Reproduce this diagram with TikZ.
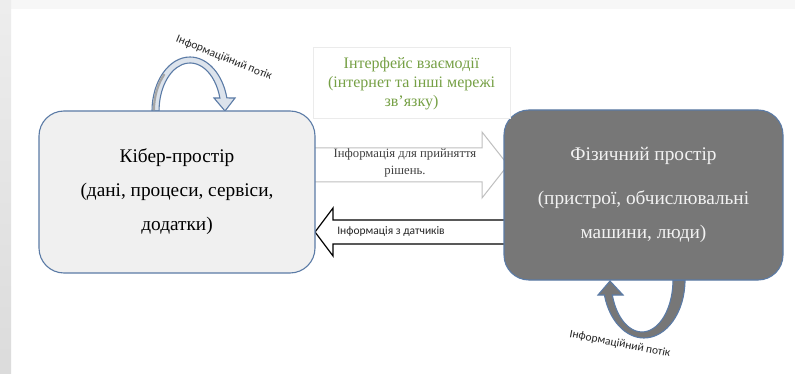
\documentclass[tikz,border=0pt]{standalone}
\usepackage{fontspec}
\setmainfont{Liberation Serif}
\newfontfamily\calibri{Carlito}
\usetikzlibrary{calc}
\pgfdeclarelayer{page}
\pgfdeclarelayer{back}
\pgfsetlayers{page,back,main}

\definecolor{boxedge}{HTML}{5B7BA6}
\definecolor{cyberfill}{HTML}{F0F0F0}
\definecolor{physfill}{HTML}{777777}
\definecolor{phystext}{HTML}{F2F2F2}
\definecolor{ifgreen}{HTML}{76A045}
\definecolor{ribbonlight}{HTML}{DCE3EC}
\definecolor{ribbondark}{HTML}{A6A6A6}

\tikzset{
  spacebox/.style={draw=boxedge, line width=1.1pt, rounded corners=25pt,
    align=center, inner sep=0pt},
  serifbig/.style={font=\rmfamily\fontsize{19.3}{34}\selectfont},
  flowlabel/.style={font=\calibri\fontsize{11.5}{13}\selectfont, text=black!85},
  blockarrow/.style={fill=white, line width=1pt, line join=miter},
}

\begin{document}
\begin{tikzpicture}[x=1pt,y=-1pt]
\useasboundingbox (0,0) rectangle (795,374);

% page background with a light side strip
\begin{pgfonlayer}{page}
  \fill[white] (0,0) rectangle (795,374);
  \fill[black!3] (0,0) rectangle (795,9);
  \shade[top color=black!7, bottom color=black!14] (0,0) rectangle (11,374);
\end{pgfonlayer}

% the two spaces
\node[spacebox, fill=cyberfill, minimum width=276pt, minimum height=162pt,
      serifbig] (cyber) at (177,192)
  {Кібер-простір\\(дані, процеси, сервіси,\\додатки)};
\node[spacebox, fill=physfill, text=phystext, minimum width=279pt,
      minimum height=170pt, serifbig] (phys) at (643.5,195)
  {Фізичний простір\\[10pt](пристрої, обчислювальні\\машини, люди)};

% interface box
\node[draw=black!8, line width=0.6pt, minimum width=197pt, minimum height=71pt,
      text=ifgreen, align=center, font=\rmfamily\fontsize{16}{19}\selectfont]
  (iface) at (411.5,82.5)
  {\rule{0pt}{14pt}Інтерфейс взаємодії\\(інтернет та інші мережі\\зв’язку)};

% block arrows between the spaces, kept behind the boxes
\begin{pgfonlayer}{back}
  \draw[blockarrow, draw=black!25]
    (310,148) -- (482,148) -- (482,132) -- (508,165) -- (482,198)
    -- (482,182) -- (310,182);
  \draw[blockarrow, draw=black, line width=1.2pt]
    (510,220) -- (333,220) -- (333,208) -- (315,232) -- (333,256)
    -- (333,244) -- (510,244);

  % information flow loop above the cyber space
  \filldraw[fill=ribbonlight, draw=boxedge, line width=1.1pt, line join=miter]
    (152,111) arc[start angle=180, end angle=346, x radius=38, y radius=54]
    -- (235,98) -- (225,111) -- (214,98) -- (219.9,98)
    arc[start angle=344.3, end angle=180, x radius=31, y radius=48] -- cycle;
  \fill[ribbondark]
    (152.8,111) arc[start angle=180, end angle=225, x radius=37.2, y radius=53.2]
    -- ($(190,111)+(225:35 and 51)$)
    arc[start angle=225, end angle=180, x radius=35, y radius=51] -- cycle;

  % information flow loop below the physical space
  \filldraw[fill=physfill, draw=boxedge, line width=1.1pt, line join=miter]
    (685,280) arc[start angle=0, end angle=165, x radius=41, y radius=58]
    -- (598,295) -- (610,281) -- (623,295) -- (612.3,295)
    arc[start angle=163.2, end angle=0, x radius=31, y radius=52] -- cycle;
\end{pgfonlayer}

% arrow labels
\node[font=\rmfamily\fontsize{12.7}{17}\selectfont, text=black!75, align=center]
  (decide) at (405,163) {Інформація для прийняття\\рішень.};
\node[font=\calibri\fontsize{11.5}{13}\selectfont, text=black!85]
  (sense) at (391,231) {Інформація з датчиків};

% loop labels
\node[flowlabel, rotate=-22] (flowtop) at (224,58) {Інформаційний потік};
\node[flowlabel, rotate=-11] (flowbot) at (620,344) {Інформаційний потік};
\end{tikzpicture}
\end{document}
